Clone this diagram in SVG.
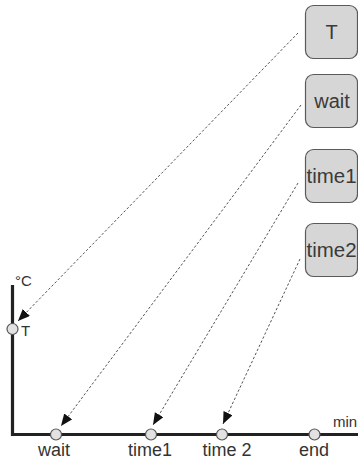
<svg xmlns="http://www.w3.org/2000/svg" width="358" height="460" viewBox="0 0 358 460">
  <style>
    .box { fill: #d6d6d6; stroke: #5a5a5a; stroke-width: 1.2; }
    .boxtext { font-family: "Liberation Sans", Arial, sans-serif; font-size: 20px; fill: #3a3a3a; text-anchor: middle; }
    .axis { stroke: #222; stroke-width: 3.2; fill: none; }
    .pt { fill: #e2e2e2; stroke: #555; stroke-width: 1.2; }
    .lbl { font-family: "Liberation Sans", Arial, sans-serif; font-size: 18px; fill: #333; text-anchor: middle; }
    .small { font-family: "Liberation Sans", Arial, sans-serif; font-size: 15px; fill: #333; }
    .link { stroke: #555; stroke-width: 1; stroke-dasharray: 2.5 2; fill: none; marker-end: url(#head); }
  </style>
  <defs>
    <marker id="head" markerUnits="userSpaceOnUse" markerWidth="13" markerHeight="11" refX="12" refY="5" orient="auto">
      <path d="M0,0 L12,5 L0,10 z" fill="#111"/>
    </marker>
  </defs>

  <rect width="358" height="460" fill="#fff"/>

  <!-- parameter boxes -->
  <g id="node-T">
    <rect class="box" x="305.5" y="5.5" width="52" height="53" rx="8"/>
    <text class="boxtext" x="331.5" y="39">T</text>
  </g>
  <g id="node-wait">
    <rect class="box" x="305.5" y="74.5" width="52" height="53" rx="8"/>
    <text class="boxtext" x="332" y="108">wait</text>
  </g>
  <g id="node-time1">
    <rect class="box" x="305.5" y="149.5" width="52" height="53" rx="8"/>
    <text class="boxtext" x="331.5" y="183" textLength="50" lengthAdjust="spacingAndGlyphs">time1</text>
  </g>
  <g id="node-time2">
    <rect class="box" x="305.5" y="223.5" width="52" height="53" rx="8"/>
    <text class="boxtext" x="331.5" y="257" textLength="50" lengthAdjust="spacingAndGlyphs">time2</text>
  </g>

  <!-- chart axes -->
  <g id="axes">
    <polyline class="axis" points="12.5,285 12.5,434.5 358,434.5"/>
    <text class="small" x="15" y="286">°C</text>
    <text class="small" x="333" y="427">min</text>
  </g>

  <!-- points on the axes -->
  <g id="pt-T">
    <circle class="pt" cx="12.5" cy="329" r="5.5"/>
    <text class="small" x="21" y="335.5">T</text>
  </g>
  <g id="pt-wait">
    <circle class="pt" cx="56" cy="434.5" r="5.5"/>
    <text class="lbl" x="54" y="455.5">wait</text>
  </g>
  <g id="pt-time1">
    <circle class="pt" cx="151" cy="434.5" r="5.5"/>
    <text class="lbl" x="150" y="455.5">time1</text>
  </g>
  <g id="pt-time2">
    <circle class="pt" cx="222" cy="434.5" r="5.5"/>
    <text class="lbl" x="227" y="455.5">time 2</text>
  </g>
  <g id="pt-end">
    <circle class="pt" cx="314.5" cy="434.5" r="5.5"/>
    <text class="lbl" x="314" y="455.5">end</text>
  </g>

  <!-- dashed links from boxes to points -->
  <g id="connectors">
    <line class="link" x1="298" y1="33" x2="18" y2="321"/>
    <line class="link" x1="301" y1="105" x2="61" y2="426"/>
    <line class="link" x1="298" y1="183" x2="153" y2="425"/>
    <line class="link" x1="300" y1="259" x2="223" y2="424"/>
  </g>
</svg>
